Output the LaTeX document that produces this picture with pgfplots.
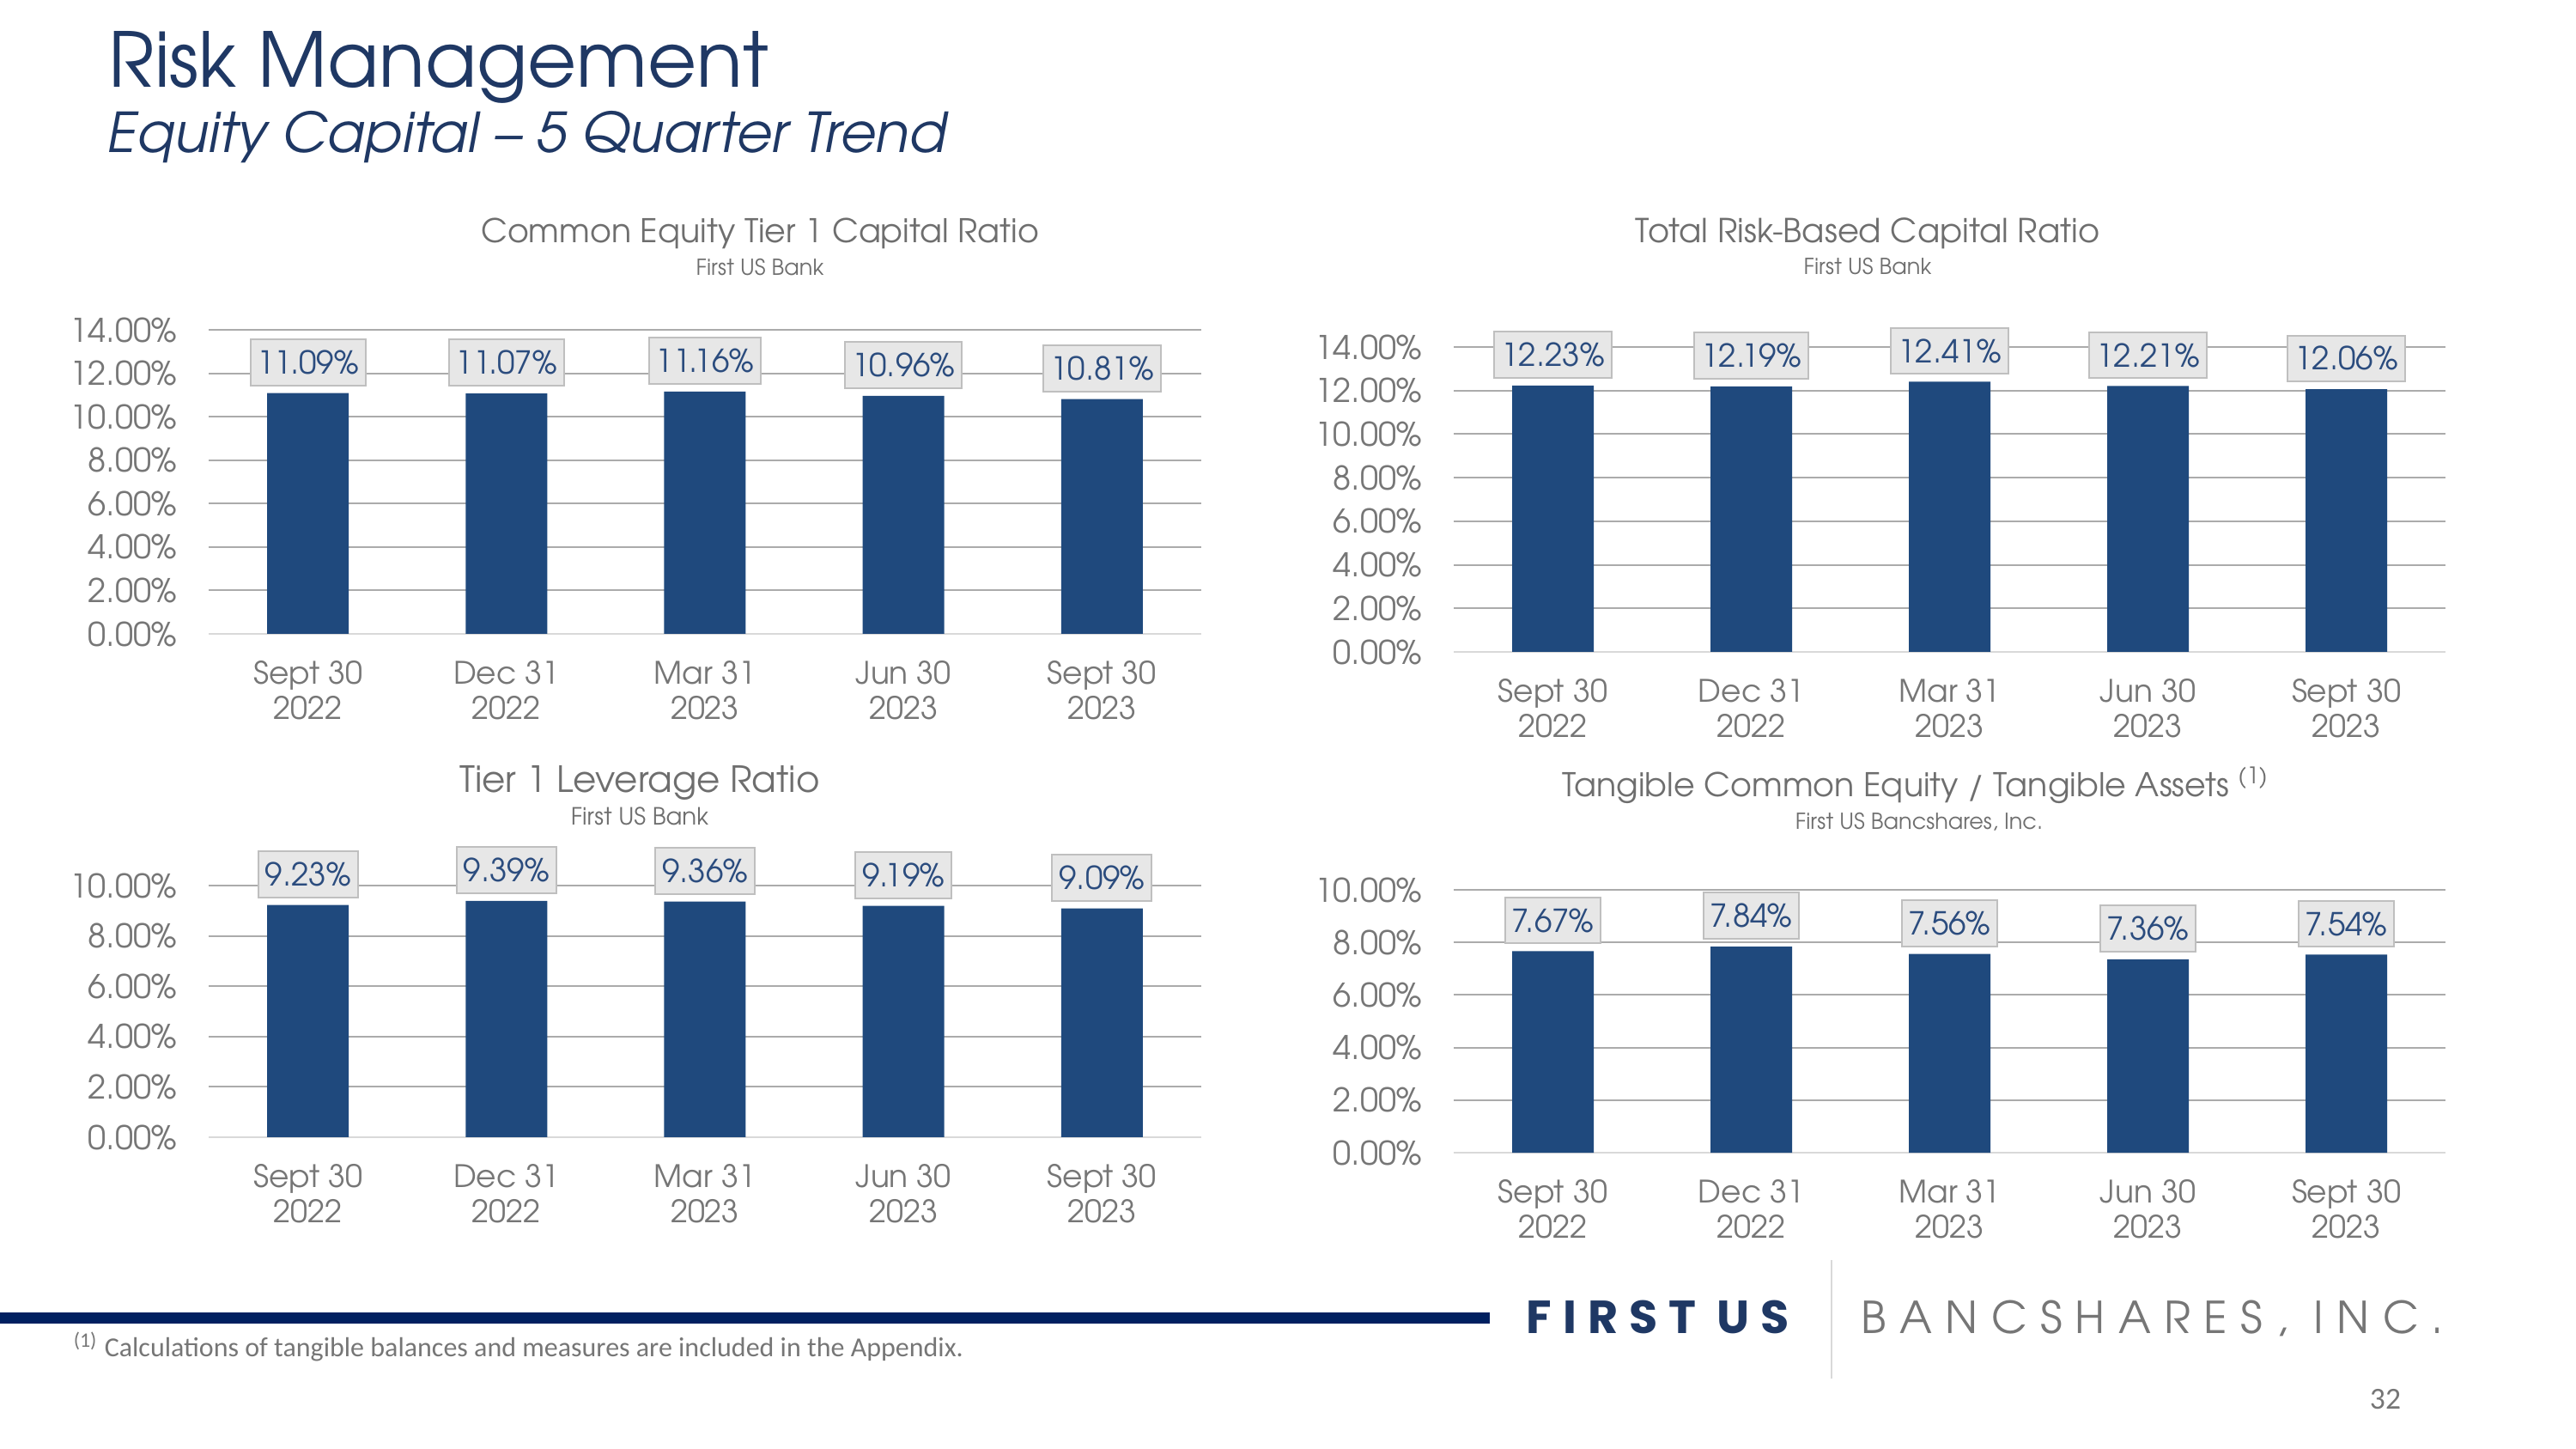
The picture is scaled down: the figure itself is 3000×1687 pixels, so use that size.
\documentclass[border=0pt]{standalone}
\usepackage{pgfplots}
\pgfplotsset{compat=1.18}
\usepackage{fontspec}
\setmainfont{TeX Gyre Adventor}
\newfontfamily\calib{Carlito}
\newfontfamily\logofont{Poppins}

\definecolor{navy}{HTML}{1F3864}
\definecolor{barblue}{HTML}{1F497D}
\definecolor{lblblue}{HTML}{2B4C7E}
\definecolor{txtgray}{HTML}{767676}
\definecolor{ttlgray}{HTML}{6E6E6E}
\definecolor{gridgray}{HTML}{ABABAB}
\definecolor{basegray}{HTML}{D9D9D9}
\definecolor{boxfill}{HTML}{E7E7E7}
\definecolor{boxdraw}{HTML}{BFBFBF}
\definecolor{footnavy}{HTML}{002060}

% one quarterly bar panel
\pgfplotsset{
  qbars/.style={
    scale only axis, width=289pt, anchor=south west,
    ybar, bar width=23.75pt, ymin=0,
    xmin=-0.5, xmax=4.5, xtick={0,...,4},
    xticklabels={{Sept 30\\2022},{Dec 31\\2022},{Mar 31\\2023},{Jun 30\\2023},{Sept 30\\2023}},
    xticklabel style={align=center, font=\fontsize{9}{10.25}\selectfont, text=txtgray, yshift=-4.25pt},
    yticklabel style={font=\fontsize{9.5}{10}\selectfont, text=txtgray, xshift=-5.8pt},
    /pgf/number format/assume math mode=true,
    yticklabel={\pgfmathprintnumber[fixed,fixed zerofill,precision=2]{\tick}\%},
    ymajorgrids, grid style={gridgray, line width=0.5pt},
    major tick length=0pt,
    axis x line*=bottom, axis y line*=left,
    x axis line style={basegray, line width=0.7pt, -},
    y axis line style={draw=none},
    nodes near coords={\pgfmathprintnumber[fixed,fixed zerofill,precision=2]{\pgfplotspointmeta}\%},
    nodes near coords style={font=\fontsize{9.2}{10}\selectfont, text=lblblue,
      fill=boxfill, draw=boxdraw, line width=0.5pt, inner xsep=2pt, inner ysep=3.3pt,
      text height=6.8pt, text depth=0pt, anchor=south, yshift=2pt},
    clip=false,
  },
  qbar/.style={fill=barblue, draw=none},
}

\begin{document}
\begin{tikzpicture}[x=0.25pt, y=-0.25pt]
\useasboundingbox (0,0) rectangle (3000,1687);

% headings
\node[anchor=base west, inner sep=0, font=\fontsize{22}{25}\selectfont, text=navy] at (126,102) {Risk Management};
\node[anchor=base west, inner sep=0, font=\itshape\fontsize{16}{19}\selectfont, text=navy] at (124,178) {Equity Capital – 5 Quarter Trend};

% chart titles
\node[anchor=base, inner sep=0, font=\fontsize{9.5}{11}\selectfont, text=ttlgray] at (885,283) {Common Equity Tier 1 Capital Ratio};
\node[anchor=base, inner sep=0, font=\fontsize{6.4}{7}\selectfont, text=ttlgray] at (885,321) {First US Bank};
\node[anchor=base, inner sep=0, font=\fontsize{9.6}{11}\selectfont, text=ttlgray] at (2175,283) {Total Risk-Based Capital Ratio};
\node[anchor=base, inner sep=0, font=\fontsize{6.4}{7}\selectfont, text=ttlgray] at (2175,320) {First US Bank};
\node[anchor=base, inner sep=0, font=\fontsize{10.5}{12}\selectfont, text=ttlgray] at (745,923) {Tier 1 Leverage Ratio};
\node[anchor=base, inner sep=0, font=\fontsize{6.9}{8}\selectfont, text=ttlgray] at (745,961) {First US Bank};
\node[anchor=base, inner sep=0, font=\fontsize{9.5}{11}\selectfont, text=ttlgray] at (2231,928) {Tangible Common Equity / Tangible Assets \textsuperscript{(1)}};
\node[anchor=base, inner sep=0, font=\fontsize{6.4}{7}\selectfont, text=ttlgray] at (2235,966) {First US Bancshares, Inc.};

% Common Equity Tier 1
\begin{axis}[qbars, at={(60.75pt,-184.5pt)}, height=88.5pt, ymax=14, ytick={0,2,...,14}]
\addplot[qbar] coordinates {(0,11.09) (1,11.07) (2,11.16) (3,10.96) (4,10.81)};
\end{axis}

% Total risk-based
\begin{axis}[qbars, at={(423.25pt,-189.75pt)}, width=288.75pt, height=88.75pt, ymax=14, ytick={0,2,...,14}]
\addplot[qbar] coordinates {(0,12.23) (1,12.19) (2,12.41) (3,12.21) (4,12.06)};
\end{axis}

% Tier 1 leverage
\begin{axis}[qbars, at={(60.75pt,-331pt)}, height=73.25pt, ymax=10, ytick={0,2,...,10}]
\addplot[qbar] coordinates {(0,9.23) (1,9.39) (2,9.36) (3,9.19) (4,9.09)};
\end{axis}

% TCE / TA
\begin{axis}[qbars, at={(423.25pt,-335.5pt)}, width=288.75pt, height=76.5pt, ymax=10, ytick={0,2,...,10}]
\addplot[qbar] coordinates {(0,7.67) (1,7.84) (2,7.56) (3,7.36) (4,7.54)};
\end{axis}

% footer
\fill[footnavy] (0,1528) rectangle (1735,1541);
\node[anchor=base west, inner sep=0, font=\calib\fontsize{8}{9}\selectfont, text=txtgray] at (85,1580)
  {\textsuperscript{(1)} Calculations of tangible balances and measures are included in the Appendix.};
\node[anchor=base west, inner sep=0, font=\logofont\fontsize{13.5}{15}\selectfont\bfseries\addfontfeatures{LetterSpace=24}, text=navy] at (1777,1553) {FIRST US};
\draw[basegray, line width=0.5pt] (2133,1467) -- (2133,1605);
\node[anchor=base west, inner sep=0, font=\fontsize{12.8}{14}\selectfont\addfontfeatures{LetterSpace=30}, text=txtgray] at (2167,1553) {BANCSHARES, INC.};
\node[anchor=base, inner sep=0, font=\calib\fontsize{8.9}{10}\selectfont, text=txtgray] at (2778,1640) {32};
\end{tikzpicture}
\end{document}
